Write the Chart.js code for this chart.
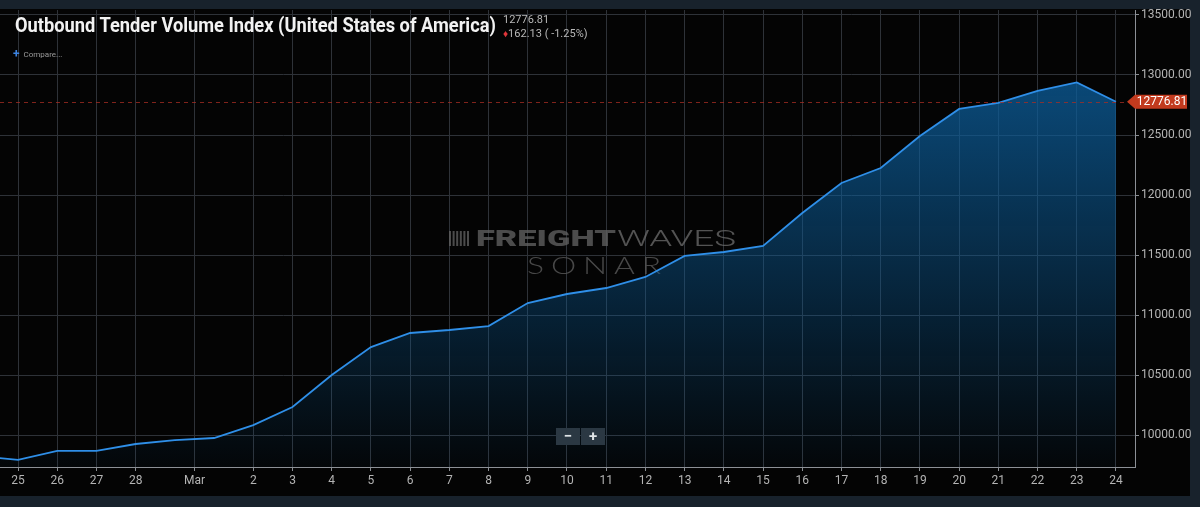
<!DOCTYPE html>
<html>
<head>
<meta charset="utf-8">
<script src="https://cdn.jsdelivr.net/npm/chart.js@4.4.1/dist/chart.umd.min.js"></script>
<style>
  body { margin: 0; background: #18222c; }
  #wrap { position: relative; width: 1200px; height: 507px; overflow: hidden; background: #18222c; font-family: Roboto, sans-serif; }
  #panel { position: absolute; left: 0; top: 9px; width: 1190px; height: 487px; background: #040404; }
  #chart { position: absolute; left: 0; top: 0; }
  #title { position: absolute; left: 15px; top: 13px; font: bold 21px Roboto; color: #f2f2f2; white-space: nowrap; transform-origin: 0 0; }
  #last { position: absolute; left: 503px; top: 13px; font: 11px Roboto; color: #b8b8b8; }
  #chg { position: absolute; left: 503px; top: 27px; font: 11px Roboto; color: #b8b8b8; }
  #chg b { color: #e0353a; font-size: 10px; vertical-align: 0px; }
  #compare { position: absolute; left: 13px; top: 47px; font: 8px Roboto; color: #9a9a9a; }
  #compare span { color: #3d84e0; font-size: 12px; font-weight: bold; vertical-align: -1px; margin-right: 4px; }
  .zbtn { position: absolute; top: 428px; width: 24px; height: 17px; background: #2b3843; color: #dfe3e6; font: bold 15px Roboto; text-align: center; line-height: 17px; }
</style>
</head>
<body>
<div id="wrap">
  <div id="panel"></div>
  <canvas id="chart" width="1200" height="507"></canvas>
  <div id="title">Outbound Tender Volume Index (United States of America)</div>
  <div id="last"></div>
  <div id="chg"></div>
  <div id="compare"><span>+</span>Compare...</div>
  <div class="zbtn" style="left:556px">&minus;</div>
  <div class="zbtn" style="left:581px">+</div>
</div>
<script>
// daily values, Feb 24 .. Mar 24
const dates = ['Feb 24', 'Feb 25', 'Feb 26', 'Feb 27', 'Feb 28', 'Feb 29',
  'Mar 1', 'Mar 2', 'Mar 3', 'Mar 4', 'Mar 5', 'Mar 6', 'Mar 7', 'Mar 8', 'Mar 9', 'Mar 10',
  'Mar 11', 'Mar 12', 'Mar 13', 'Mar 14', 'Mar 15', 'Mar 16', 'Mar 17', 'Mar 18', 'Mar 19',
  'Mar 20', 'Mar 21', 'Mar 22', 'Mar 23', 'Mar 24'];
const values = [9825, 9792, 9867, 9867, 9925, 9958,
  9975, 10083, 10233, 10500, 10733, 10850, 10875, 10908, 11100, 11175,
  11225, 11317, 11492, 11525, 11575, 11850, 12100, 12225, 12492,
  12717, 12767, 12867, 12938.94, 12776.81];

// x tick labels and where they sit (index into dates; "Mar" falls between Feb 29 and Mar 1)
const xTickLabels = ['25', '26', '27', '28', 'Mar', '2', '3', '4', '5', '6', '7', '8', '9', '10',
  '11', '12', '13', '14', '15', '16', '17', '18', '19', '20', '21', '22', '23', '24'];
const xTickAt = [1, 2, 3, 4, 5.5, 7, 8, 9, 10, 11, 12, 13, 14, 15,
  16, 17, 18, 19, 20, 21, 22, 23, 24, 25, 26, 27, 28, 29];
const yTicks = [10000, 10500, 11000, 11500, 12000, 12500, 13000, 13500];

const last = values[values.length - 1];
const prev = values[values.length - 2];
const diff = last - prev;
document.getElementById('last').textContent = last.toFixed(2);
document.getElementById('chg').innerHTML = '<b>&#9830;</b>' + Math.abs(diff).toFixed(2) +
  ' ( ' + (diff / prev * 100).toFixed(2) + '%)';

const title = document.getElementById('title');
title.style.transform = 'scaleX(' + (481 / title.offsetWidth) + ')';

function fitText(ctx, text, x, y, w) {
  const m = ctx.measureText(text).width;
  ctx.save();
  ctx.translate(x, y);
  ctx.scale(w / m, 1);
  ctx.fillText(text, 0, 0);
  ctx.restore();
}

const watermark = {
  id: 'watermark',
  beforeDatasetsDraw(chart) {
    const ctx = chart.ctx;
    ctx.save();
    ctx.textBaseline = 'alphabetic';
    ctx.textAlign = 'left';
    ctx.fillStyle = 'rgba(95,95,95,0.8)';
    for (let i = 0; i < 6; i++) ctx.fillRect(449 + i * 3.6, 231, 2, 15);
    ctx.font = '900 22px Roboto';
    fitText(ctx, 'FREIGHT', 476, 246, 140);
    ctx.fillStyle = 'rgba(110,110,110,0.75)';
    ctx.font = '300 22px Roboto';
    fitText(ctx, 'WAVES', 617, 246, 119);
    ctx.fillStyle = 'rgba(90,90,90,0.8)';
    ctx.font = '300 23px Lato';
    ctx.letterSpacing = '5px';
    fitText(ctx, 'SONAR', 527, 274, 141);
    ctx.restore();
  }
};

const lastLine = {
  id: 'lastLine',
  afterDatasetsDraw(chart) {
    const ctx = chart.ctx, a = chart.chartArea;
    const y = Math.round(chart.scales.y.getPixelForValue(last)) + 0.5;
    ctx.save();
    ctx.strokeStyle = 'rgba(170,45,35,0.75)';
    ctx.lineWidth = 1;
    ctx.setLineDash([4, 4]);
    ctx.beginPath();
    ctx.moveTo(a.left, y);
    ctx.lineTo(a.right, y);
    ctx.stroke();
    ctx.restore();
  },
  afterDraw(chart) {
    const ctx = chart.ctx, a = chart.chartArea;
    const y = chart.scales.y.getPixelForValue(last);
    const tip = a.right - 8, l = a.right, r = 1187;
    ctx.save();
    ctx.fillStyle = '#c23a1e';
    ctx.beginPath();
    ctx.moveTo(tip, y);
    ctx.lineTo(l, y - 7);
    ctx.lineTo(r, y - 7);
    ctx.lineTo(r, y + 7);
    ctx.lineTo(l, y + 7);
    ctx.closePath();
    ctx.fill();
    ctx.fillStyle = '#ffffff';
    ctx.font = '12px Roboto';
    ctx.textAlign = 'center';
    ctx.textBaseline = 'middle';
    ctx.fillText(last.toFixed(2), (l + r) / 2 + 1, y + 0.5);
    ctx.restore();
  }
};

new Chart(document.getElementById('chart'), {
  type: 'line',
  data: {
    datasets: [{
      label: 'OTVI',
      data: values.map((v, i) => ({ x: i, y: v })),
      borderColor: '#2f8fe8',
      borderWidth: 1.8,
      pointRadius: 0,
      tension: 0,
      fill: 'start',
      backgroundColor(ctx) {
        const a = ctx.chart.chartArea;
        if (!a) return 'rgba(12,88,145,0.5)';
        const g = ctx.chart.ctx.createLinearGradient(0, a.top, 0, a.bottom);
        g.addColorStop(0, 'rgba(12,92,152,0.92)');
        g.addColorStop(1, 'rgba(12,92,152,0.04)');
        return g;
      }
    }]
  },
  options: {
    responsive: false,
    animation: false,
    layout: { padding: { top: 10, left: 0, right: 0, bottom: 0 } },
    plugins: { legend: { display: false }, tooltip: { enabled: false } },
    scales: {
      x: {
        type: 'linear',
        min: 1 - 18 / 39.21,
        max: 29 + 19 / 39.21,
        afterBuildTicks(scale) { scale.ticks = xTickAt.map(v => ({ value: v })); },
        afterFit(scale) { scale.height = 40; },
        grid: { color: '#2e3238', tickColor: '#8a8e93', tickLength: 4 },
        border: { display: true, color: '#8c9096' },
        ticks: {
          autoSkip: false, maxRotation: 0, padding: 3,
          color: '#b4b4b4', font: { family: 'Roboto', size: 12 },
          callback: (v, i) => xTickLabels[i]
        }
      },
      y: {
        position: 'right',
        min: 10000 - 32 * 500 / 60,
        max: 13500 + 5 * 500 / 60,
        afterBuildTicks(scale) { scale.ticks = yTicks.map(v => ({ value: v })); },
        afterFit(scale) { scale.width = 65; },
        grid: { color: '#2e3238', tickColor: '#8a8e93', tickLength: 4 },
        border: { display: true, color: '#8c9096' },
        ticks: {
          padding: 2, color: '#b4b4b4', font: { family: 'Roboto', size: 12 },
          callback: v => v.toFixed(2)
        }
      }
    }
  },
  plugins: [watermark, lastLine]
});
</script>
</body>
</html>
